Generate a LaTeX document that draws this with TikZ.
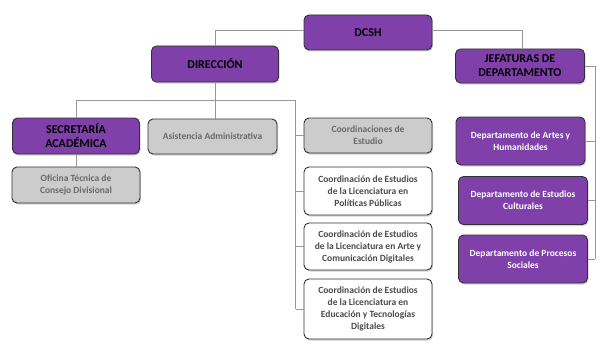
\documentclass[tikz,border=0pt]{standalone}
\usepackage{fontspec}
\setmainfont{Carlito}[BoldFont={Carlito Bold}]
\usetikzlibrary{shadows}
\definecolor{purp}{RGB}{128,64,170}
\definecolor{gbox}{RGB}{204,204,204}
\definecolor{gtext}{RGB}{105,105,105}
\definecolor{wtext}{RGB}{75,75,75}
\definecolor{edge}{RGB}{50,50,50}
\definecolor{conn}{RGB}{150,150,150}
\tikzset{
  base/.style={draw=edge, line width=0.9pt, rounded corners=5pt, align=center, inner sep=0pt,
    font=\bfseries, drop shadow={shadow xshift=1pt, shadow yshift=-1.5pt, opacity=0.35}},
  bigp/.style={base, fill=purp, text=black, font=\bfseries\fontsize{12}{14}\selectfont},
  dept/.style={base, fill=purp, text=white, font=\bfseries\fontsize{9.5}{12}\selectfont,
    minimum width=129pt, minimum height=48pt},
  grayb/.style={base, fill=gbox, text=gtext, font=\bfseries\fontsize{9.5}{12}\selectfont},
  whiteb/.style={base, fill=white, text=wtext, font=\bfseries\fontsize{9.5}{12}\selectfont,
    minimum width=128pt},
  link/.style={draw=conn, line width=0.8pt}
}
\begin{document}
\begin{tikzpicture}[x=1pt,y=1pt]
\useasboundingbox[fill=white] (0,0) rectangle (604,-345);
% nodes
\node[bigp, minimum width=128pt, minimum height=35pt] (dcsh) at (368,-32.5) {DCSH};
\node[bigp, minimum width=127pt, minimum height=36pt] (dir) at (215,-64) {DIRECCIÓN};
\node[bigp, minimum width=129pt, minimum height=34pt] (jef) at (520,-66) {JEFATURAS DE\\DEPARTAMENTO};
\node[bigp, minimum width=127pt, minimum height=36pt] (sec) at (76,-136) {SECRETARÍA\\ACADÉMICA};
\node[grayb, minimum width=129pt, minimum height=35pt] (asis) at (212.5,-136.5) {Asistencia Administrativa};
\node[grayb, minimum width=128pt, minimum height=36pt] (ofi) at (76,-185) {Oficina Técnica de\\Consejo Divisional};
\node[grayb, minimum width=128pt, minimum height=35pt] (ce) at (368,-135.5) {Coordinaciones de\\Estudio};
\node[whiteb, minimum height=48pt] (c1) at (368,-191) {Coordinación de Estudios\\de la Licenciatura en\\Políticas Públicas};
\node[whiteb, minimum height=47pt] (c2) at (368,-246.5) {Coordinación de Estudios\\de la Licenciatura en Arte y\\Comunicación Digitales};
\node[whiteb, minimum height=60pt] (c3) at (368,-309) {Coordinación de Estudios\\de la Licenciatura en\\Educación y Tecnologías\\Digitales};
\node[dept] (d1) at (520.5,-141) {Departamento de Artes y\\Humanidades};
\node[dept] (d2) at (523,-200.5) {Departamento de Estudios\\Culturales};
\node[dept] (d3) at (523,-259) {Departamento de Procesos\\Sociales};
% connectors
\draw[link] ([yshift=2.5pt]dcsh.west) -| (dir.north);
\draw[link] ([yshift=2.5pt]dcsh.east) -| ([xshift=2pt]jef.north);
\draw[link] (dir.south) -- ++(0,-18) coordinate (bj);
\coordinate (vr) at ([xshift=-8pt]ce.west |- bj);
\draw[link] (sec.north) |- (vr) -- (vr |- c3.west);
\draw[link] (bj) -- (bj |- asis.north);
\draw[link] (vr |- ce.west) -- (ce.west);
\draw[link] (vr |- c1.west) -- (c1.west);
\draw[link] (vr |- c2.west) -- (c2.west);
\draw[link] (vr |- c3.west) -- (c3.west);
\draw[link] (sec.south) -- (ofi.north);
\coordinate (jr) at ([xshift=10pt]jef.east);
\draw[link] (jef.east) -- (jr) -- (jr |- d3.east);
\draw[link] (jr |- d1.east) -- (d1.east);
\draw[link] (jr |- d2.east) -- (d2.east);
\draw[link] (jr |- d3.east) -- (d3.east);
\end{tikzpicture}
\end{document}
